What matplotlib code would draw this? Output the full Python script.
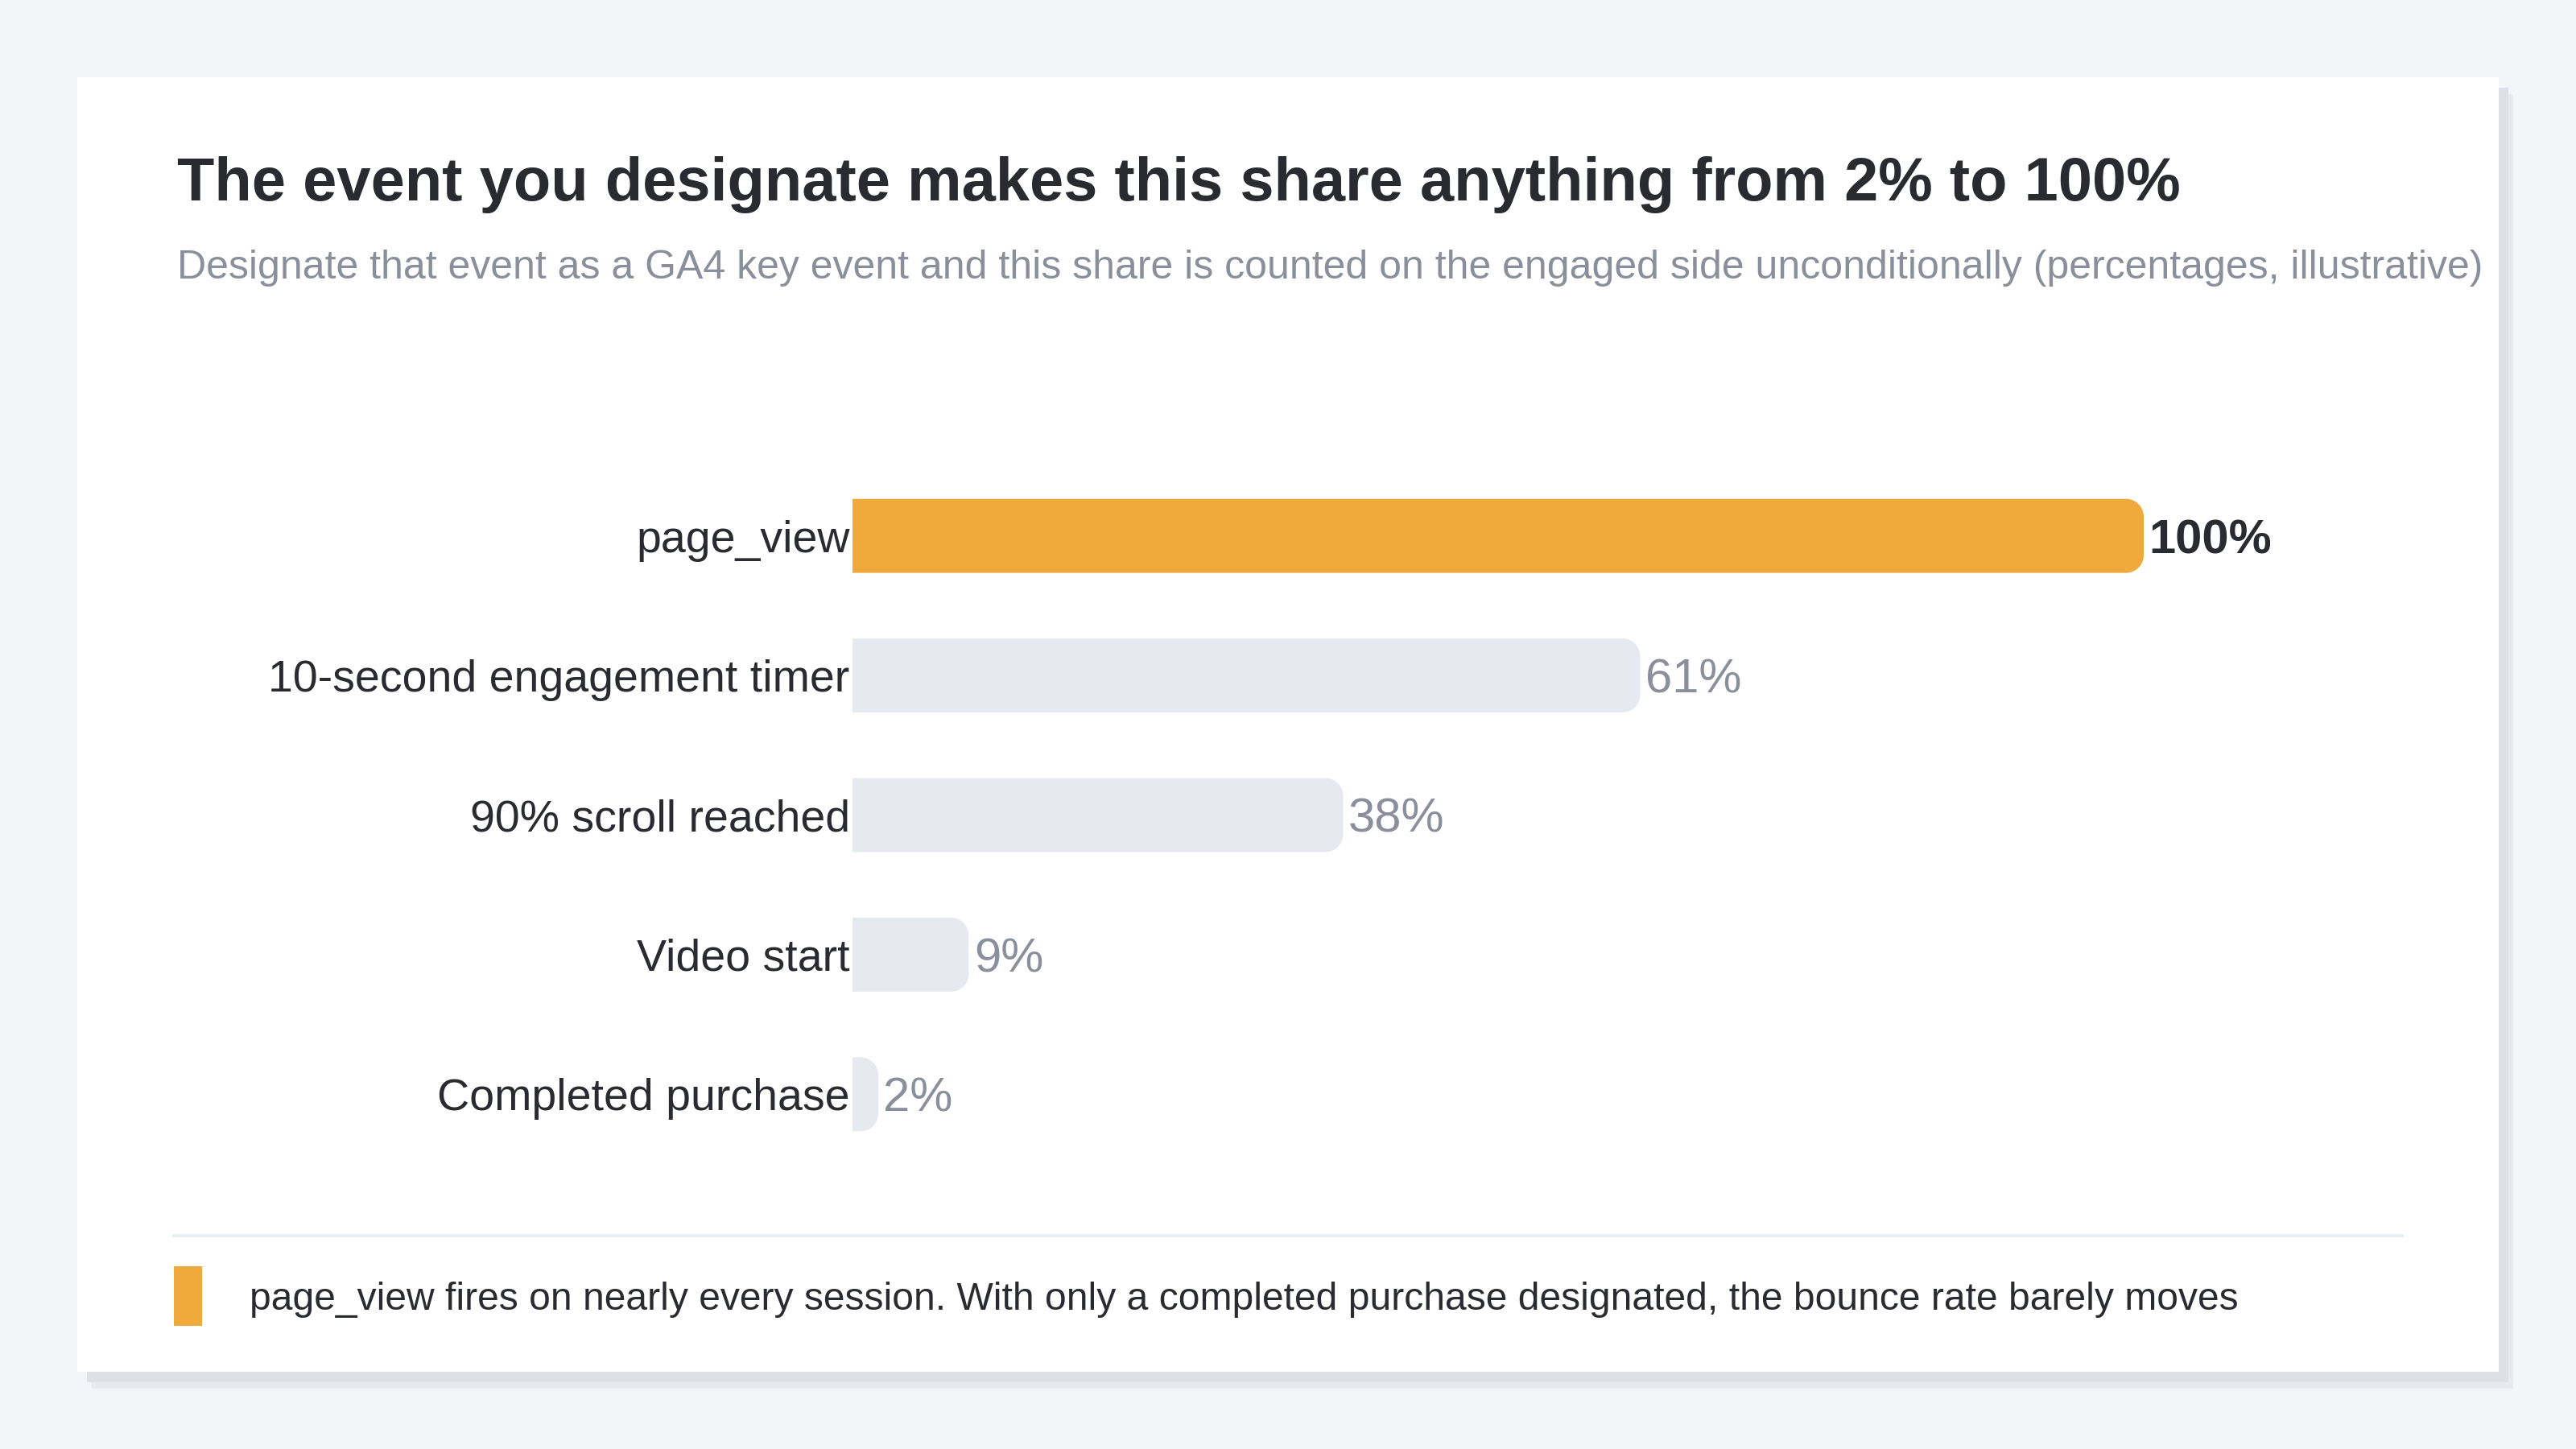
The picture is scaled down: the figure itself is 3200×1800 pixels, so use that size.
import matplotlib
matplotlib.use("Agg")
import matplotlib.pyplot as plt
from matplotlib.patches import Rectangle, PathPatch
from matplotlib.path import Path
from matplotlib.lines import Line2D

# data
events = ["page_view", "10-second engagement timer", "90% scroll reached",
          "Video start", "Completed purchase"]
shares = [100, 61, 38, 9, 2]
highlight = "page_view"

title = "The event you designate makes this share anything from 2% to 100%"
subtitle = ("Designate that event as a GA4 key event and this share is counted on the "
            "engaged side unconditionally (percentages, illustrative)")
note = ("page_view fires on nearly every session. With only a completed purchase "
        "designated, the bounce rate barely moves")

ORANGE = "#f0a93b"
GREYBAR = "#e6e9f0"
DARK = "#2a2b30"
MUTED = "#8a8f9b"
BG = "#f4f5f9"

plt.rcParams["font.family"] = ["Liberation Sans", "DejaVu Sans"]

W, H = 3200, 1800
fig = plt.figure(figsize=(16, 9), dpi=200, facecolor=BG)


def px(x0, y0, x1, y1):
    # pixel box (top-left origin) -> figure fraction rect
    return (x0 / W, 1 - y1 / H, (x1 - x0) / W, (y1 - y0) / H)


# card with soft shadow
for (dx, dy, c) in [(18, 21, "#e9eaef"), (12, 13, "#dde0e6")]:
    l, b, w, h = px(96 + dx, 96 + dy, 3104 + dx, 1704 + dy)
    fig.patches.append(Rectangle((l, b), w, h, transform=fig.transFigure,
                                 facecolor=c, edgecolor="none", zorder=-3))
l, b, w, h = px(96, 96, 3104, 1704)
fig.patches.append(Rectangle((l, b), w, h, transform=fig.transFigure,
                             facecolor="white", edgecolor="none", zorder=-2))

fig.text(220 / W, 1 - 249 / H, title, fontsize=27.3, fontweight="bold",
         color=DARK, va="baseline", ha="left")
fig.text(220 / W, 1 - 346 / H, subtitle, fontsize=18, color=MUTED,
         va="baseline", ha="left")

# bars
ax = fig.add_axes(px(1059, 579, 2663, 1446))
ax.set_zorder(3)
ax.set_facecolor("none")
ypos = list(range(len(events)))
colors = [ORANGE if e == highlight else GREYBAR for e in events]
bars = ax.barh(ypos, shares, height=0.53, color=colors)
ax.set_xlim(0, 100)
ax.set_ylim(len(events) - 0.5, -0.5)

# round right-hand corners
ax_px_w = 2663 - 1059
ax_px_h = (1446 - 579) / len(events)
r_px = 22
K = 0.5523
for bar in bars:
    x0, y0 = bar.get_x(), bar.get_y()
    bw, bh = bar.get_width(), bar.get_height()
    rx = min(r_px * 100 / ax_px_w, bw)
    ry = min(r_px / ax_px_h, bh / 2)
    x1, y1 = x0 + bw, y0 + bh
    verts = [(x0, y0), (x1 - rx, y0),
             (x1 - rx + K * rx, y0), (x1, y0 + ry - K * ry), (x1, y0 + ry),
             (x1, y1 - ry),
             (x1, y1 - ry + K * ry), (x1 - rx + K * rx, y1), (x1 - rx, y1),
             (x0, y1), (x0, y0)]
    codes = [Path.MOVETO, Path.LINETO,
             Path.CURVE4, Path.CURVE4, Path.CURVE4,
             Path.LINETO,
             Path.CURVE4, Path.CURVE4, Path.CURVE4,
             Path.LINETO, Path.CLOSEPOLY]
    ax.add_patch(PathPatch(Path(verts, codes), facecolor=bar.get_facecolor(),
                           edgecolor="none"))
    bar.set_visible(False)

for y, e, v in zip(ypos, events, shares):
    hl = e == highlight
    ax.text(v + 0.4, y, f"{v}%", va="center_baseline", ha="left", fontsize=21.5,
            color=DARK if hl else MUTED, fontweight="bold" if hl else "normal")

ax.set_yticks(ypos, events)
ax.tick_params(axis="y", length=0, pad=1.2, labelsize=20, labelcolor=DARK)
ax.set_xticks([])
for s in ax.spines.values():
    s.set_visible(False)

# footer
fig.add_artist(Line2D([216 / W, 2984 / W], [1 - 1535 / H] * 2, color="#eceff3",
                      linewidth=1.5, transform=fig.transFigure))
l, b, w, h = px(216, 1573, 251, 1647)
fig.patches.append(Rectangle((l, b), w, h, transform=fig.transFigure,
                             facecolor=ORANGE, edgecolor="none", zorder=2))
fig.text(310 / W, 1 - 1627 / H, note, fontsize=17.3, color=DARK,
         va="baseline", ha="left")

plt.savefig("out.png", dpi=200, facecolor=BG)
